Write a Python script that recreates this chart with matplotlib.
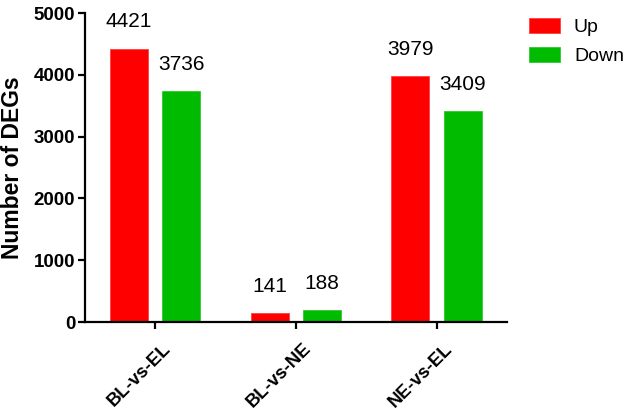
import matplotlib.pyplot as plt
import matplotlib.transforms as mtrans
import numpy as np

plt.rcParams['font.family'] = ['Liberation Sans', 'DejaVu Sans']

##--- data
groups = ['BL-vs-EL', 'BL-vs-NE', 'NE-vs-EL']
up     = [4421, 141, 3979]
down   = [3736, 188, 3409]

red   = '#ff0000'
green = '#00bb00'

##--- plotting
fig = plt.figure(figsize=(6.24, 4.13), dpi=100)
ax = fig.add_axes([0.136, 0.2203, 0.6765, 0.7482])

x = np.arange(len(groups))
w = 0.27
off = 0.186
b1 = ax.bar(x - off, up, w, color=red, edgecolor='#ff4040', linewidth=0.6, label='Up')
b2 = ax.bar(x + off, down, w, color=green, edgecolor='#30c830', linewidth=0.6, label='Down')

for bars, vals in ((b1, up), (b2, down)):
    for b, v in zip(bars, vals):
        ax.text(b.get_x() + b.get_width() / 2, v + 280, str(v),
                ha='center', va='bottom', fontsize=15)

ax.set_xlim(-0.5, 2.5)
ax.set_ylim(0, 5000)
ax.set_yticks([0, 1000, 2000, 3000, 4000, 5000])
ax.set_xticks(x)
ax.set_xticklabels([])
# slanted category labels, set a bit right of and below each tick
shift = mtrans.ScaledTranslation(5 / 72, -13 / 72, fig.dpi_scale_trans)
for xi, g in zip(x, groups):
    ax.text(xi, 0, g, transform=ax.get_xaxis_transform() + shift,
            rotation=45, ha='right', va='top', rotation_mode='anchor',
            fontweight='bold', fontsize=13.3)
for lab in ax.get_yticklabels():
    lab.set_fontweight('bold')
    lab.set_fontsize(13.5)
ax.set_ylabel('Number of DEGs', fontweight='bold', fontsize=16.5, labelpad=7)

for s in ['top', 'right']:
    ax.spines[s].set_visible(False)
for s in ['left', 'bottom']:
    ax.spines[s].set_linewidth(1.6)
ax.tick_params(width=1.6, length=5, pad=2)

fig.legend(loc='upper left', bbox_to_anchor=(0.82, 1.0), frameon=False,
           fontsize=14, handlelength=1.6, handleheight=0.85,
           handletextpad=0.7, labelspacing=0.55)

plt.savefig('out.png', dpi=100)
